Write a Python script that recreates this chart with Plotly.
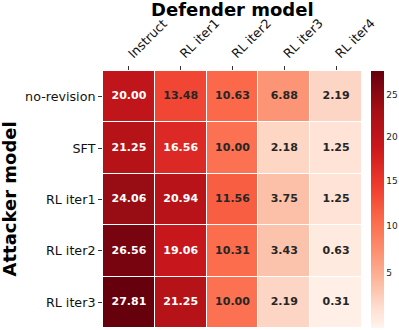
import plotly.graph_objects as go

defenders = ["Instruct", "RL iter1", "RL iter2", "RL iter3", "RL iter4"]
attackers = ["no-revision", "SFT", "RL iter1", "RL iter2", "RL iter3"]

# rows = attacker, cols = defender
row_norev = [20.00, 13.48, 10.63, 6.88, 2.19]
row_sft = [21.25, 16.56, 10.00, 2.18, 1.25]
row_rl1 = [24.06, 20.94, 11.56, 3.75, 1.25]
row_rl2 = [26.56, 19.06, 10.31, 3.43, 0.63]
row_rl3 = [27.81, 21.25, 10.00, 2.19, 0.31]
z = [row_norev, row_sft, row_rl1, row_rl2, row_rl3]

cbar_ticks = [5, 10, 15, 20, 25]

# matplotlib "Reds"
reds = [(255, 245, 240), (254, 224, 210), (252, 187, 161), (252, 146, 114),
        (251, 106, 74), (239, 59, 44), (203, 24, 29), (165, 15, 21), (103, 0, 13)]


def reds_at(q):
    q = min(max(q, 0.0), 1.0) * (len(reds) - 1)
    i = min(int(q), len(reds) - 2)
    t = q - i
    c = [round(a + (b - a) * t) for a, b in zip(reds[i], reds[i + 1])]
    return f"rgb({c[0]},{c[1]},{c[2]})"


# the colour ramp in the picture is pushed a bit towards red
n_stops = 40
colorscale = [[k / n_stops, reds_at((k / n_stops) ** 0.8)] for k in range(n_stops + 1)]

# power norm, vmin 0
vmax = max(max(r) for r in z)
gamma = 0.9


def norm(v):
    return (v / vmax) ** gamma


zn = [[norm(v) for v in row] for row in z]

fig = go.Figure()
fig.add_trace(go.Heatmap(
    z=zn, x=defenders, y=attackers,
    colorscale=colorscale, zmin=0, zmax=1,
    xgap=1, ygap=1, hoverinfo="skip",
    colorbar=dict(
        x=1 + 9 / 259, xanchor="left", xpad=0, y=0.5, yanchor="middle",
        len=1.0, lenmode="fraction", ypad=0,
        thickness=13, outlinewidth=0,
        tickvals=[norm(t) for t in cbar_ticks], ticktext=[str(t) for t in cbar_ticks],
        ticks="", tickfont=dict(family="DejaVu Sans", size=9, color="#222"),
    ),
))

# cell labels, white on dark cells, dark on light ones
xs, ys, txt, cols = [], [], [], []
for a, row in zip(attackers, z):
    for d, v in zip(defenders, row):
        xs.append(d)
        ys.append(a)
        txt.append(f"{v:.2f}")
        cols.append("#ffffff" if v > 15 else "#262626")

fig.add_trace(go.Scatter(
    x=xs, y=ys, mode="text", text=txt, hoverinfo="skip",
    textfont=dict(family="DejaVu Sans", size=11, color=cols, weight="bold"),
    showlegend=False,
))

fig.update_xaxes(
    side="top", tickangle=-45, ticks="outside", ticklen=4, tickcolor="#333",
    tickfont=dict(family="DejaVu Sans", size=12.7, color="#111"),
    showgrid=False, zeroline=False, showline=False, automargin=False,
)
fig.update_yaxes(
    autorange="reversed", ticks="outside", ticklen=4, tickcolor="#333",
    tickfont=dict(family="DejaVu Sans", size=12.7, color="#111"),
    showgrid=False, zeroline=False, showline=False, automargin=False,
)

fig.add_annotation(text="<b>Defender model</b>", xref="paper", yref="paper",
                   x=0.5, y=1 + (71 - 10) / 257, yanchor="middle", showarrow=False,
                   font=dict(family="DejaVu Sans", size=18, color="#000"))
fig.add_annotation(text="<b>Attacker model</b>", xref="paper", yref="paper",
                   x=-(103 - 9) / 259, y=0.5, xanchor="center", yanchor="middle",
                   textangle=-90, showarrow=False,
                   font=dict(family="DejaVu Sans", size=18, color="#000"))

fig.update_layout(
    width=399, height=330,
    margin=dict(l=103, r=37, t=71, b=2, autoexpand=False),
    paper_bgcolor="white", plot_bgcolor="white",
    showlegend=False,
)

# the page's default body margin pushes the figure 8px off the window
fig.write_html("out.html", config={"displayModeBar": False},
               post_script="document.body.style.margin='0';")
